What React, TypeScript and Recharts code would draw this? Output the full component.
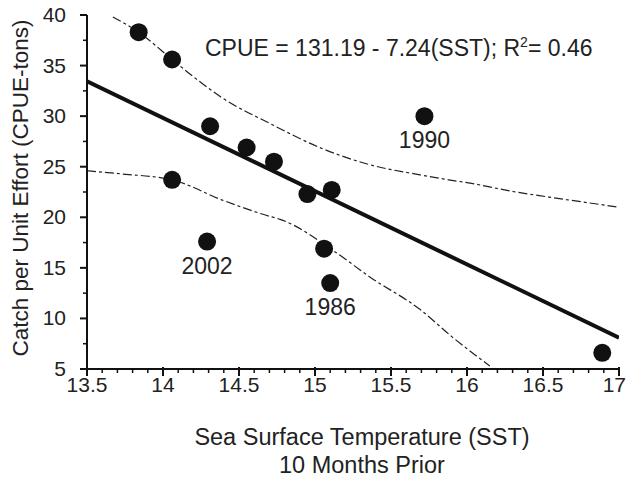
import React from "react";
import { ComposedChart, Line, Scatter, XAxis, YAxis } from "recharts";

// observed points (SST 10 months prior vs CPUE)
const sstValues = [13.84, 14.06, 14.31, 14.06, 14.29, 14.55, 14.73, 14.95, 15.11, 15.06, 15.1, 15.72, 16.89];
const cpueValues = [38.3, 35.6, 29.0, 23.7, 17.6, 26.9, 25.5, 22.3, 22.7, 16.9, 13.5, 30.0, 6.6];
const yearLabels = ["", "", "", "", "2002", "", "", "", "", "", "1986", "1990", ""];

// fitted line CPUE = 131.19 - 7.24(SST)
const fitX = [13.5, 17];
const fitY = [33.45, 8.1];

// confidence bands
const upperX = [13.67, 13.84, 14.06, 14.2, 14.39, 14.7, 15.03, 15.36, 15.69, 15.88, 16.01, 16.32, 16.54, 17];
const upperY = [39.8, 38.3, 35.6, 33.9, 31.8, 29.3, 26.9, 25.2, 24.2, 23.7, 23.4, 22.5, 22.0, 21.0];
const lowerX = [13.5, 13.72, 14.06, 14.39, 14.7, 14.77, 15.14, 15.36, 15.69, 15.9, 16.15];
const lowerY = [24.6, 24.3, 23.7, 21.7, 20.1, 19.8, 16.5, 14.1, 10.9, 8.2, 5.3];

const xMajor = [13.5, 14, 14.5, 15, 15.5, 16, 16.5, 17];
const yMajor = [5, 10, 15, 20, 25, 30, 35, 40];

const xTicks = Array.from({ length: 36 }, (_, i) => +(13.5 + i * 0.1).toFixed(1));
const yTicks = Array.from({ length: 15 }, (_, i) => 5 + i * 2.5);

const zip = (xs: number[], ys: number[]) => xs.map((x, i) => ({ x, y: ys[i] }));
const points = sstValues.map((x, i) => ({ x, y: cpueValues[i], year: yearLabels[i] }));

const FONT = "'Liberation Sans', Arial, sans-serif";
const INK = "#111";

const XTick = (props: any) => {
  const { x, y, payload } = props;
  const v = payload.value;
  if (!xMajor.some((m) => Math.abs(m - v) < 1e-6)) {
    return <line x1={x} x2={x} y1={y} y2={y + 4} stroke={INK} strokeWidth={1.5} />;
  }
  const last = v === 17;
  return (
    <g>
      <line x1={x} x2={x} y1={y - 2} y2={y + 7} stroke={INK} strokeWidth={2} />
      <text
        x={last ? x + 7 : x}
        y={y + 23}
        textAnchor={last ? "end" : "middle"}
        fontSize={21}
        fontFamily={FONT}
        fill="#222"
      >
        {v}
      </text>
    </g>
  );
};

const YTick = (props: any) => {
  const { x, y, payload } = props;
  const v = payload.value;
  if (!yMajor.includes(v)) {
    return <line x1={x} x2={x - 4} y1={y} y2={y} stroke={INK} strokeWidth={1.5} />;
  }
  return (
    <g>
      <line x1={x} x2={x - 7} y1={y} y2={y} stroke={INK} strokeWidth={2} />
      <text x={x - 21} y={y + 7} textAnchor="end" fontSize={21} fontFamily={FONT} fill="#222">
        {v}
      </text>
    </g>
  );
};

const Dot = (props: any) => {
  const { cx, cy, payload } = props;
  return (
    <g>
      <circle cx={cx} cy={cy} r={9} fill={INK} />
      {payload.year ? (
        <text x={cx} y={cy + 32} textAnchor="middle" fontSize={23} fontFamily={FONT} fill="#222">
          {payload.year}
        </text>
      ) : null}
    </g>
  );
};

const App = () => (
  <div style={{ position: "absolute", left: 0, top: 0, width: 627, height: 482, background: "#fff", fontFamily: FONT, color: "#222" }}>
    <ComposedChart width={627} height={482} margin={{ top: 15, right: 8, bottom: 0, left: 0 }}>
      <XAxis
        type="number"
        dataKey="x"
        domain={[13.5, 17]}
        ticks={xTicks}
        interval={0}
        allowDataOverflow
        height={113}
        tickLine={false}
        tickSize={0}
        tickMargin={0}
        axisLine={{ stroke: INK, strokeWidth: 2 }}
        tick={<XTick />}
      />
      <YAxis
        type="number"
        dataKey="y"
        domain={[5, 40]}
        ticks={yTicks}
        interval={0}
        allowDataOverflow
        width={87}
        tickLine={false}
        tickSize={0}
        tickMargin={0}
        axisLine={{ stroke: INK, strokeWidth: 2 }}
        tick={<YTick />}
      />
      <Line data={zip(upperX, upperY)} dataKey="y" type="monotone" stroke="#222" strokeWidth={1.2} strokeDasharray="9 3 3 3" dot={false} isAnimationActive={false} />
      <Line data={zip(lowerX, lowerY)} dataKey="y" type="monotone" stroke="#222" strokeWidth={1.2} strokeDasharray="9 3 3 3" dot={false} isAnimationActive={false} />
      <Line data={zip(fitX, fitY)} dataKey="y" type="linear" stroke={INK} strokeWidth={4} dot={false} isAnimationActive={false} />
      <Scatter data={points} dataKey="y" shape={<Dot />} isAnimationActive={false} />
    </ComposedChart>

    <div style={{ position: "absolute", left: 205, top: 35, fontSize: 23, whiteSpace: "nowrap", lineHeight: "26px" }}>
      CPUE = 131.19 - 7.24(SST); R<span style={{ fontSize: 14, position: "relative", top: -9 }}>2</span>= 0.46
    </div>

    <div
      style={{
        position: "absolute",
        left: 21 - 200,
        top: 188 - 14,
        width: 400,
        textAlign: "center",
        fontSize: 22.5,
        lineHeight: "28px",
        transform: "rotate(-90deg)",
        whiteSpace: "nowrap",
      }}
    >
      Catch per Unit Effort (CPUE-tons)
    </div>

    <div style={{ position: "absolute", left: 362 - 250, top: 423, width: 500, textAlign: "center", fontSize: 23.5, lineHeight: "28px" }}>
      Sea Surface Temperature (SST)
      <br />
      10 Months Prior
    </div>
  </div>
);

export default App;
